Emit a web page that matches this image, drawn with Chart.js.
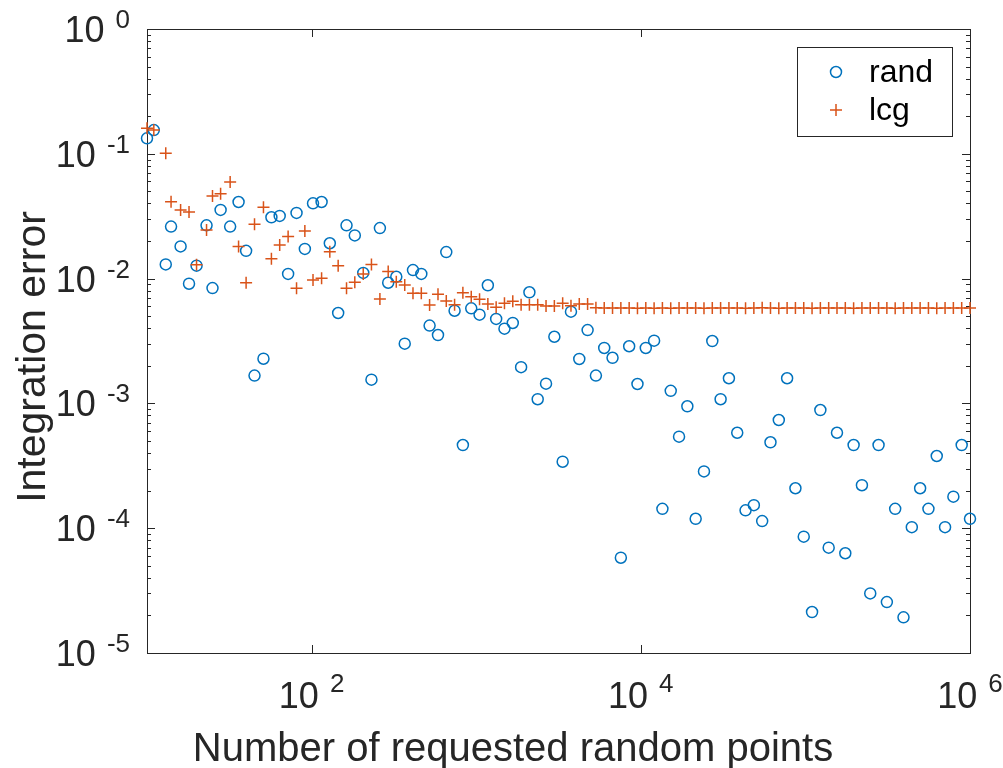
<!DOCTYPE html>
<html>
<head>
<meta charset="utf-8">
<script src="https://cdn.jsdelivr.net/npm/chart.js@4/dist/chart.umd.min.js"></script>
<style>
  html, body { margin: 0; padding: 0; background: #fff; }
</style>
</head>
<body>
<canvas id="chart" width="1003" height="768"></canvas>
<script>
// number of requested points (x) for each run
const numPoints = [
  10, 11, 13, 14, 16, 18, 20, 23, 25, 28,
  32, 36, 40, 45, 51, 57, 64, 72, 81, 91,
  102, 115, 129, 145, 163, 183, 206, 231, 260, 292,
  327, 368, 413, 464, 521, 586, 658, 739, 830, 933,
  1048, 1177, 1322, 1485, 1668, 1874, 2105, 2364, 2656, 2984,
  3352, 3765, 4229, 4751, 5337, 5995, 6734, 7565, 8498, 9545,
  10723, 12045, 13530, 15199, 17074, 19179, 21544, 24201, 27186, 30539,
  34305, 38535, 43288, 48626, 54623, 61359, 68926, 77426, 86975, 97701,
  109750, 123285, 138489, 155568, 174753, 196304, 220513, 247708, 278256, 312572,
  351119, 394421, 443062, 497702, 559081, 628029, 705480, 792483, 890215, 1000000
];

const randErr = [
  0.133, 0.155, 0.0130, 0.0261, 0.0181, 0.0091, 0.0127, 0.0267, 0.0084, 0.0355,
  0.0261, 0.0411, 0.0167, 0.00167, 0.00228, 0.0310, 0.0318, 0.0109, 0.0336, 0.0173,
  0.0401, 0.0411, 0.0192, 0.0053, 0.0267, 0.0222, 0.0111, 0.00155, 0.0254, 0.00927,
  0.01035, 0.00301, 0.0117, 0.0109, 0.0042, 0.00353, 0.0163, 0.00553, 0.000464, 0.00578,
  0.00514, 0.00884, 0.00475, 0.00397, 0.00441, 0.00195, 0.00777, 0.00108, 0.00144, 0.00342,
  0.000341, 0.00543, 0.00227, 0.00387, 0.00167, 0.00278, 0.00232, 0.000058, 0.00287, 0.00143,
  0.00278, 0.00318, 0.000143, 0.00126, 0.000541, 0.000948, 0.000119, 0.000285, 0.00316, 0.00108,
  0.00159, 0.000582, 0.000139, 0.000153, 0.000114, 0.000488, 0.000736, 0.00159, 0.000209, 0.0000855,
  0.0000213, 0.000885, 0.0000698, 0.000582, 0.000063, 0.000464, 0.000221, 0.000030, 0.000464, 0.0000256,
  0.000143, 0.0000193, 0.000102, 0.000209, 0.000143, 0.000379, 0.000102, 0.000179, 0.000464, 0.000119
];

const lcgErr = [
  0.160, 0.155, 0.101, 0.0413, 0.0355, 0.0342, 0.0129, 0.0245, 0.0459, 0.0479,
  0.0594, 0.0181, 0.00927, 0.0272, 0.0373, 0.0144, 0.0186, 0.0217, 0.00836, 0.0241,
  0.00975, 0.01005, 0.0164, 0.0127, 0.00836, 0.00934, 0.0109, 0.0130, 0.00687, 0.0114,
  0.00945, 0.00889, 0.00762, 0.00762, 0.00614, 0.00748, 0.00662, 0.00618, 0.00771, 0.00716,
  0.00683, 0.00626, 0.00589, 0.00634, 0.00658, 0.00618, 0.00618, 0.00618, 0.00603, 0.00603,
  0.00634, 0.00607, 0.00626, 0.00626, 0.00585, 0.00582, 0.0058, 0.00581, 0.0058, 0.00579,
  0.0058, 0.00578, 0.0058, 0.00579, 0.0058, 0.00581, 0.0058, 0.00579, 0.0058, 0.0058,
  0.00581, 0.0058, 0.00579, 0.0058, 0.00583, 0.0058, 0.00579, 0.0058, 0.00581, 0.0058,
  0.00579, 0.0058, 0.0058, 0.00581, 0.0058, 0.00579, 0.0058, 0.0058, 0.00581, 0.0058,
  0.00579, 0.0058, 0.0058, 0.00581, 0.0058, 0.00579, 0.0058, 0.0058, 0.00581, 0.0058
];

const seriesNames = ['rand', 'lcg'];
const xTickPowers = [2, 4, 6];
const yTickPowers = [0, -1, -2, -3, -4, -5];
const xTitle = 'Number of requested random points';
const yTitle = 'Integration error';

const BLUE = '#0072BD';
const ORANGE = '#D95319';
const AXIS = '#262626';
const FONT = '"Liberation Sans", Arial, Helvetica, sans-serif';
const BASE_FONT = '36px ' + FONT;
const EXP_FONT = '26px ' + FONT;

// draws "10" with a raised exponent, like MATLAB's 10^{n} tick labels
function drawPower(ctx, x, baseY, exp, align, lift) {
  ctx.font = BASE_FONT;
  const baseW = ctx.measureText('10').width;
  ctx.font = EXP_FONT;
  const expW = ctx.measureText(exp).width;
  const gap = 11;
  const total = baseW + gap + expW;
  const left = align === 'right' ? x - total : x - total / 2;
  ctx.textAlign = 'left';
  ctx.textBaseline = 'alphabetic';
  ctx.font = BASE_FONT;
  ctx.fillText('10', left, baseY);
  ctx.font = EXP_FONT;
  ctx.fillText(exp, left + baseW + gap, baseY - lift);
}

const matlabAxes = {
  id: 'matlabAxes',
  beforeDatasetsDraw(chart) {
    const { ctx, chartArea: a, scales: { x, y } } = chart;
    ctx.save();
    ctx.strokeStyle = AXIS;
    ctx.lineWidth = 1;
    ctx.strokeRect(a.left + 0.5, a.top + 0.5, a.right - a.left, a.bottom - a.top);
    ctx.beginPath();
    yTickPowers.forEach(p => {
      for (let m = 1; m <= 9; m++) {
        const v = m * Math.pow(10, p);
        if (v > y.max * 1.0001) continue;
        const py = Math.round(y.getPixelForValue(v)) + 0.5;
        const len = m === 1 ? 8 : 4;
        ctx.moveTo(a.left, py); ctx.lineTo(a.left + len, py);
        ctx.moveTo(a.right, py); ctx.lineTo(a.right - len, py);
      }
    });
    xTickPowers.forEach(p => {
      const px = Math.round(x.getPixelForValue(Math.pow(10, p))) + 0.5;
      ctx.moveTo(px, a.bottom); ctx.lineTo(px, a.bottom - 8);
      ctx.moveTo(px, a.top); ctx.lineTo(px, a.top + 8);
    });
    ctx.stroke();
    ctx.restore();
  },
  afterDraw(chart) {
    const { ctx, chartArea: a, scales: { x, y } } = chart;
    ctx.save();
    ctx.fillStyle = AXIS;

    // tick labels
    yTickPowers.forEach(p => {
      const py = y.getPixelForValue(Math.pow(10, p));
      drawPower(ctx, a.left - 17, py + 13, String(p), 'right', 14);
    });
    xTickPowers.forEach(p => {
      const px = x.getPixelForValue(Math.pow(10, p));
      drawPower(ctx, px, a.bottom + 55, String(p), 'center', 16);
    });

    // axis titles
    ctx.font = '40px ' + FONT;
    ctx.textAlign = 'center';
    ctx.textBaseline = 'alphabetic';
    ctx.fillText(xTitle, 513, 761);
    ctx.save();
    ctx.translate(45, 357);
    ctx.rotate(-Math.PI / 2);
    ctx.font = '41px ' + FONT;
    ctx.fillText(yTitle, 0, 0);
    ctx.restore();

    // legend box
    const lw = 155, lh = 89;
    const lx = a.right - 18 - lw, ly = a.top + 18;
    ctx.fillStyle = '#fff';
    ctx.fillRect(lx, ly, lw, lh);
    ctx.strokeStyle = AXIS;
    ctx.lineWidth = 1;
    ctx.strokeRect(lx + 0.5, ly + 0.5, lw, lh);
    const rows = [ly + 25, ly + 63];
    chart.data.datasets.forEach((ds, i) => {
      const cy = rows[i];
      const cx = lx + 39;
      ctx.strokeStyle = ds.borderColor;
      ctx.lineWidth = 1.5;
      ctx.beginPath();
      if (ds.pointStyle === 'circle') {
        ctx.arc(cx, cy, 5.5, 0, Math.PI * 2);
      } else {
        ctx.moveTo(cx - 6, cy); ctx.lineTo(cx + 6, cy);
        ctx.moveTo(cx, cy - 6); ctx.lineTo(cx, cy + 6);
      }
      ctx.stroke();
      ctx.fillStyle = '#000';
      ctx.font = '32px ' + FONT;
      ctx.textAlign = 'left';
      ctx.textBaseline = 'middle';
      ctx.fillText(ds.label, lx + 72, cy + 1);
    });
    ctx.restore();
  }
};

new Chart(document.getElementById('chart'), {
  type: 'scatter',
  data: {
    datasets: [
      {
        label: seriesNames[0],
        data: numPoints.map((n, i) => ({ x: n, y: randErr[i] })),
        pointStyle: 'circle',
        pointRadius: 5.5,
        pointBorderWidth: 1.5,
        borderColor: BLUE,
        backgroundColor: 'rgba(0,0,0,0)',
        order: 2,
        clip: false
      },
      {
        label: seriesNames[1],
        data: numPoints.map((n, i) => ({ x: n, y: lcgErr[i] })),
        pointStyle: 'cross',
        pointRadius: 6,
        pointBorderWidth: 1.5,
        borderColor: ORANGE,
        backgroundColor: ORANGE,
        order: 1,
        clip: false
      }
    ]
  },
  options: {
    responsive: false,
    animation: false,
    devicePixelRatio: 1,
    layout: { padding: { left: 0, top: 29, right: 33, bottom: 0 } },
    plugins: { legend: { display: false }, tooltip: { enabled: false } },
    scales: {
      x: {
        type: 'logarithmic', min: 10, max: 1e6,
        grid: { display: false }, border: { display: false },
        ticks: { display: false },
        afterFit(s) { s.height = 115; }
      },
      y: {
        type: 'logarithmic', min: 1e-5, max: 1,
        grid: { display: false }, border: { display: false },
        ticks: { display: false },
        afterFit(s) { s.width = 147; }
      }
    }
  },
  plugins: [matlabAxes]
});
</script>
</body>
</html>
